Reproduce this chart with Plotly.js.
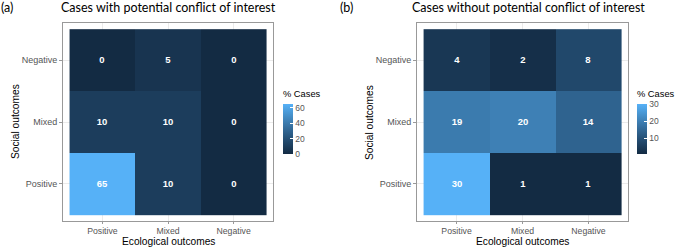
<!DOCTYPE html>
<html><head><meta charset="utf-8">
<script src="https://cdn.plot.ly/plotly-3.0.1.min.js"></script>
<style>html,body{margin:0;padding:0;background:#fff}#chart{width:676px;height:247px}</style>
</head><body><div id="chart"></div>
<script>
const ecological = ['Positive', 'Mixed', 'Negative'];
const social = ['Positive', 'Mixed', 'Negative'];
// rows follow `social` (bottom to top), columns follow `ecological`
const withConflict = [
  [65, 10, 0],
  [10, 10, 0],
  [0, 5, 0]
];
const withoutConflict = [
  [30, 1, 1],
  [19, 20, 14],
  [4, 2, 8]
];
const titleA = 'Cases with potential conflict of interest';
const titleB = 'Cases without potential conflict of interest';
const xTitle = 'Ecological outcomes';
const yTitle = 'Social outcomes';
const legendTitle = '% Cases';
const ticksA = [0, 20, 40, 60];
const ticksB = [10, 20, 30];

const W = 676, H = 247;
const px = v => v / W, py = v => 1 - v / H;
const scale = [[0, '#132B43'], [0.25, '#22496C'], [0.5, '#336A98'], [0.75, '#448DC6'], [1, '#56B1F7']];
const FAM = 'Liberation Sans, Arial, sans-serif';
const tickFont = {family: FAM, size: 9, color: '#555'};
const xTickFont = {family: FAM, size: 8.7, color: '#555'};
const axTitleFont = {family: FAM, size: 10.2, color: '#000'};
const titleFont = {family: 'Lato, sans-serif', size: 12.5, color: '#000'};

function cb(x, ticks) {
  return {
    x: px(x), xanchor: 'left', y: py(154), yanchor: 'bottom',
    lenmode: 'pixels', len: 50, thickness: 10, thicknessmode: 'pixels',
    xpad: 0, ypad: 0, outlinewidth: 0,
    tickvals: ticks, ticks: 'inside', ticklen: 3, tickcolor: '#fff',
    tickfont: {family: FAM, size: 8.5, color: '#555'}
  };
}

const textFont = {family: FAM, size: 9.5, color: '#fff', weight: 'bold'};
const traces = [
  {type: 'heatmap', x: ecological, y: social, z: withConflict, xaxis: 'x', yaxis: 'y',
   colorscale: scale, zmin: 0, zmax: 65, texttemplate: '%{z}', textfont: textFont,
   colorbar: cb(283, ticksA), hoverinfo: 'skip'},
  {type: 'heatmap', x: ecological, y: social, z: withoutConflict, xaxis: 'x2', yaxis: 'y2',
   colorscale: scale, zmin: 1, zmax: 30, texttemplate: '%{z}', textfont: textFont,
   colorbar: cb(637, ticksB), hoverinfo: 'skip'}
];

function xax(d0, d1, anchor) {
  return {domain: [px(d0), px(d1)], anchor: anchor, type: 'category', range: [-0.6, 2.6],
    showline: true, mirror: true, linecolor: '#999', linewidth: 1,
    showgrid: true, gridcolor: '#EBEBEB', gridwidth: 1, zeroline: false,
    ticks: 'outside', ticklen: 2, tickcolor: '#999', tickfont: xTickFont,
    automargin: false, fixedrange: true};
}
function yax(anchor) {
  return {domain: [py(221), py(23)], anchor: anchor, type: 'category', range: [-0.6, 2.6],
    showline: true, mirror: true, linecolor: '#999', linewidth: 1,
    showgrid: true, gridcolor: '#EBEBEB', gridwidth: 1, zeroline: false,
    ticks: 'outside', ticklen: 3, tickcolor: '#999', tickfont: tickFont,
    automargin: false, fixedrange: true};
}

function ann(text, x, y, font, extra) {
  return Object.assign({text: text, x: px(x), y: py(y), xref: 'paper', yref: 'paper',
    xanchor: 'center', yanchor: 'middle', showarrow: false, borderpad: 0, font: font}, extra || {});
}
const cbTitleFont = {family: FAM, size: 9.3, color: '#000'};

const layout = {
  width: W, height: H, margin: {l: 0, r: 0, t: 0, b: 0},
  paper_bgcolor: '#fff', plot_bgcolor: '#fff', showlegend: false,
  xaxis: xax(63, 273, 'y'), yaxis: yax('x'),
  xaxis2: xax(417, 628, 'y2'), yaxis2: yax('x2'),
  annotations: [
    ann('(a)', 0, 7, titleFont, {xanchor: 'left'}),
    ann(titleA, 168, 7, titleFont),
    ann('(b)', 339, 7, titleFont, {xanchor: 'left'}),
    ann(titleB, 528, 7, titleFont),
    ann(xTitle, 168, 241.5, axTitleFont),
    ann(xTitle, 522, 241.5, axTitleFont),
    ann(yTitle, 15, 122, axTitleFont, {textangle: -90}),
    ann(yTitle, 369, 122, axTitleFont, {textangle: -90}),
    ann(legendTitle, 282, 94, cbTitleFont, {xanchor: 'left'}),
    ann(legendTitle, 636, 94, cbTitleFont, {xanchor: 'left'})
  ]
};
Plotly.newPlot('chart', traces, layout, {displayModeBar: false, staticPlot: true});
</script></body></html>
